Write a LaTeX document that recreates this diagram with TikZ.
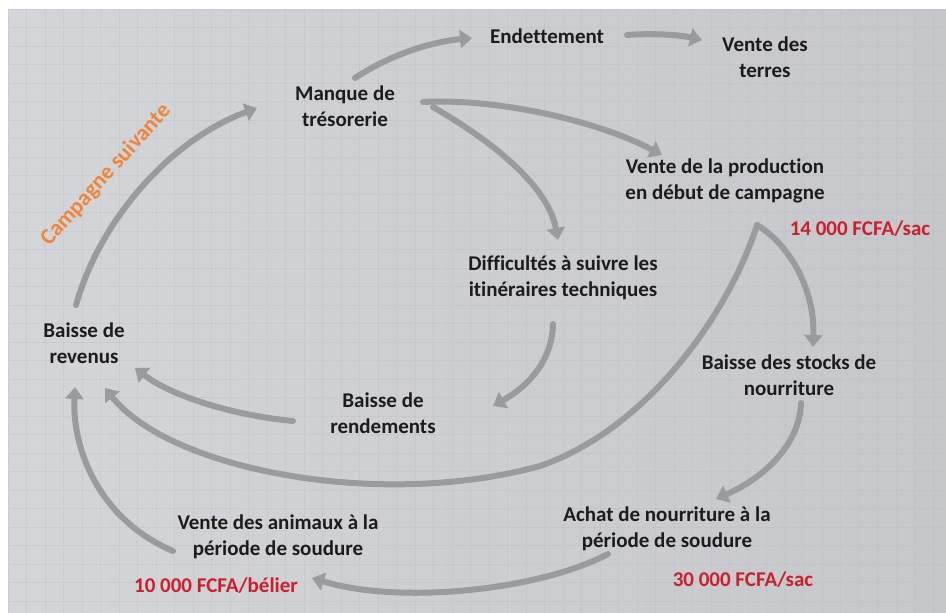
\documentclass[tikz,border=0pt]{standalone}
\usepackage{fontspec}
\setmainfont{Carlito}[Ligatures={NoCommon}]
\usetikzlibrary{arrows.meta}
\definecolor{bgA}{HTML}{D4D5D8}
\definecolor{bgB}{HTML}{C6C7CA}
\definecolor{gridc}{HTML}{B9BABD}
\definecolor{arrowc}{HTML}{9A9B9E}
\definecolor{txtc}{HTML}{1C1C1C}
\definecolor{redc}{HTML}{CC1F2E}
\definecolor{orangec}{HTML}{EE853A}
\tikzset{
  lbl/.style={inner sep=0pt, align=center, text=txtc, font=\fontsize{21}{26.5}\selectfont\bfseries},
  price/.style={inner sep=0pt, text=redc, font=\fontsize{21}{24}\selectfont\bfseries},
  conn/.style={draw=arrowc, line width=6pt, line cap=round, -{Triangle[width=18pt,length=12pt]}},
}
\begin{document}
\begin{tikzpicture}[x=1pt,y=-1pt]
\useasboundingbox (0,0) rectangle (946,613);
\fill[white] (0,0) rectangle (946,613);
\shade[left color=bgA, right color=bgB] (8,9) rectangle (946,613);
\begin{scope}
\clip (8,9) rectangle (946,613);
\foreach \gx in {0,...,51} {\draw[gridc, line width=0.5pt, opacity=0.3] (8+18.5*\gx,9) -- (8+18.5*\gx,613);}
\foreach \gy in {0,...,33} {\draw[gridc, line width=0.5pt, opacity=0.3] (8,9+18.5*\gy) -- (946,9+18.5*\gy);}
\end{scope}

% nodes
\node[lbl] (endet) at (547,36) {Endettement};
\node[lbl] (terres) at (765,57) {Vente des\\terres};
\node[lbl] (manque) at (345,106) {Manque de\\trésorerie};
\node[lbl] (prod) at (725,181) {Vente de la production\\en début de campagne};
\node[price] (prix1) at (860,229) {14 000 FCFA/sac};
\node[lbl] (diff) at (563,278) {Difficultés à suivre les\\itinéraires techniques};
\node[lbl] (revenus) at (84,343) {Baisse de\\revenus};
\node[lbl] (stocks) at (789,375) {Baisse des stocks de\\nourriture};
\node[lbl] (rend) at (383,413) {Baisse de\\rendements};
\node[lbl] (animaux) at (278,537) {Vente des animaux à la\\période de soudure};
\node[price] (prix3) at (216,586) {10 000 FCFA/bélier};
\node[lbl] (achat) at (667,529) {Achat de nourriture à la\\période de soudure};
\node[price] (prix2) at (743,580) {30 000 FCFA/sac};
\node[inner sep=0pt, text=orangec, rotate=48, font=\fontsize{22.5}{24}\selectfont\bfseries] (camp) at (106,175) {Campagne suivante};

% connectors
\draw[conn] ([shift={(10,-28)}]manque.center) .. controls (390,55) and (430,42) .. ([shift={(-75,2)}]endet.center);
\draw[conn] ([shift={(80,-1)}]endet.center) .. controls (655,33) and (680,35) .. ([shift={(-63,-17)}]terres.center);
\draw[conn] ([shift={(78,-4)}]manque.center) .. controls (500,98) and (600,122) .. ([shift={(-63,-26)}]prod.center);
\draw[conn] ([shift={(88,1)}]manque.center) .. controls (490,140) and (548,185) .. ([shift={(-5,-38)}]diff.center);
\draw[conn] ([shift={(32,44)}]prod.center) .. controls (790,245) and (815,290) .. ([shift={(24,-28)}]stocks.center);
\draw[conn] ([shift={(32,44)}]prod.center) .. controls (730,310) and (650,428) .. (540,466) .. controls (380,510) and (170,470) .. ([shift={(21,45)}]revenus.center);
\draw[conn] ([shift={(-10,46)}]diff.center) .. controls (552,360) and (530,385) .. ([shift={(110,-7)}]rend.center);
\draw[conn] ([shift={(-90,8)}]rend.center) .. controls (230,415) and (170,395) .. ([shift={(51,25)}]revenus.center);
\draw[conn] ([shift={(-105,14)}]animaux.center) .. controls (100,520) and (72,450) .. ([shift={(-9,44)}]revenus.center);
\draw[conn] ([shift={(12,28)}]stocks.center) .. controls (800,440) and (770,475) .. ([shift={(49,-30)}]achat.center);
\draw[conn] ([shift={(-59,25)}]achat.center) .. controls (540,590) and (400,605) .. ([shift={(34,41)}]animaux.center);
\draw[conn] ([shift={(-8,-38)}]revenus.center) .. controls (100,220) and (170,140) .. ([shift={(-88,2)}]manque.center);
\end{tikzpicture}
\end{document}
